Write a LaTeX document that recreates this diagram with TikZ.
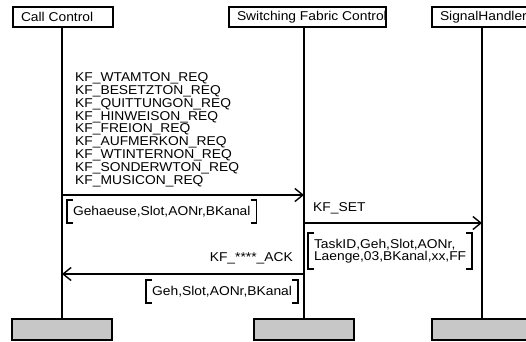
\documentclass[tikz,border=0pt]{standalone}
\usepackage{fontspec}
\setmainfont{Liberation Sans}[FakeStretch=1.08]
\usetikzlibrary{arrows.meta}
\tikzset{
  head/.style={draw, line width=1.8pt, anchor=north west, outer sep=0pt,
    minimum height=20pt, inner xsep=8pt, inner ysep=0pt, font=\fontsize{12.8}{12.8}\selectfont},
  foot/.style={draw, line width=1.8pt, fill=black!22, anchor=north, outer sep=0pt,
    minimum width=100pt, minimum height=21pt, inner sep=0pt},
  life/.style={line width=1.5pt},
  msg/.style={line width=1.4pt, -{Straight Barb[length=8pt,width=13pt,line width=1.4pt]}},
  lbl/.style={inner sep=0pt, align=left, font=\fontsize{12.8}{12.8}\selectfont},
  par/.style={lbl, inner xsep=6pt, inner ysep=6pt, outer sep=0pt},
  brk/.style={line width=1.4pt}
}
\begin{document}
\begin{tikzpicture}[x=1pt,y=-1pt]
  \useasboundingbox (0,0) rectangle (526,341);
  % instances
  \node[head] (cc) at (13,7) {\makebox[84pt][l]{Call Control}};
  \node[head] (sfc) at (229,7) {\makebox[141pt][l]{Switching Fabric Control}};
  \node[head] (sh) at (432,7) {\makebox[84pt][l]{SignalHandler}};
  \node[foot] (ccf) at (62,319) {};
  \node[foot] (sfcf) at (304,319) {};
  \node[foot] (shf) at (482,319) {};
  \draw[life] (cc.south -| ccf.north) -- (ccf.north);
  \draw[life] (sfc.south -| sfcf.north) -- (sfcf.north);
  \draw[life] (sh.south -| shf.north) -- (shf.north);
  % Call Control -> Switching Fabric Control
  \coordinate (m1) at (62,195);
  \node[lbl, anchor=north west] (req) at (75,72.5) {KF\_WTAMTON\_REQ\\KF\_BESETZTON\_REQ\\KF\_QUITTUNGON\_REQ\\KF\_HINWEISON\_REQ\\KF\_FREION\_REQ\\KF\_AUFMERKON\_REQ\\KF\_WTINTERNON\_REQ\\KF\_SONDERWTON\_REQ\\KF\_MUSICON\_REQ};
  \draw[msg] (m1) -- (m1 -| sfcf.north);
  \node[par, anchor=north west] (p1) at (67,200) {Gehaeuse,Slot,AONr,BKanal};
  % Switching Fabric Control -> SignalHandler
  \coordinate (m2) at (304,223);
  \node[lbl, anchor=base west] (set) at (313,211) {KF\_SET};
  \draw[msg] (m2) -- (m2 -| shf.north);
  \node[par, anchor=north west, font=\fontsize{12.8}{12}\selectfont] (p2) at (308,233) {TaskID,Geh,Slot,AONr,\\Laenge,03,BKanal,xx,FF};
  % Switching Fabric Control -> Call Control
  \coordinate (m3) at (304,274);
  \node[lbl, anchor=base east] (ack) at (293,261.5) {KF\_****\_ACK};
  \draw[msg] (m3) -- (m3 -| ccf.north);
  \node[par, anchor=north east] (p3) at (298,280) {Geh,Slot,AONr,BKanal};
  % brackets
  \foreach \p in {p1,p2,p3}{
    \draw[brk] ([xshift=6pt]\p.north west) -| (\p.south west) -- ++(6pt,0);
    \draw[brk] ([xshift=-6pt]\p.north east) -| (\p.south east) -- ++(-6pt,0);
  }
\end{tikzpicture}
\end{document}
